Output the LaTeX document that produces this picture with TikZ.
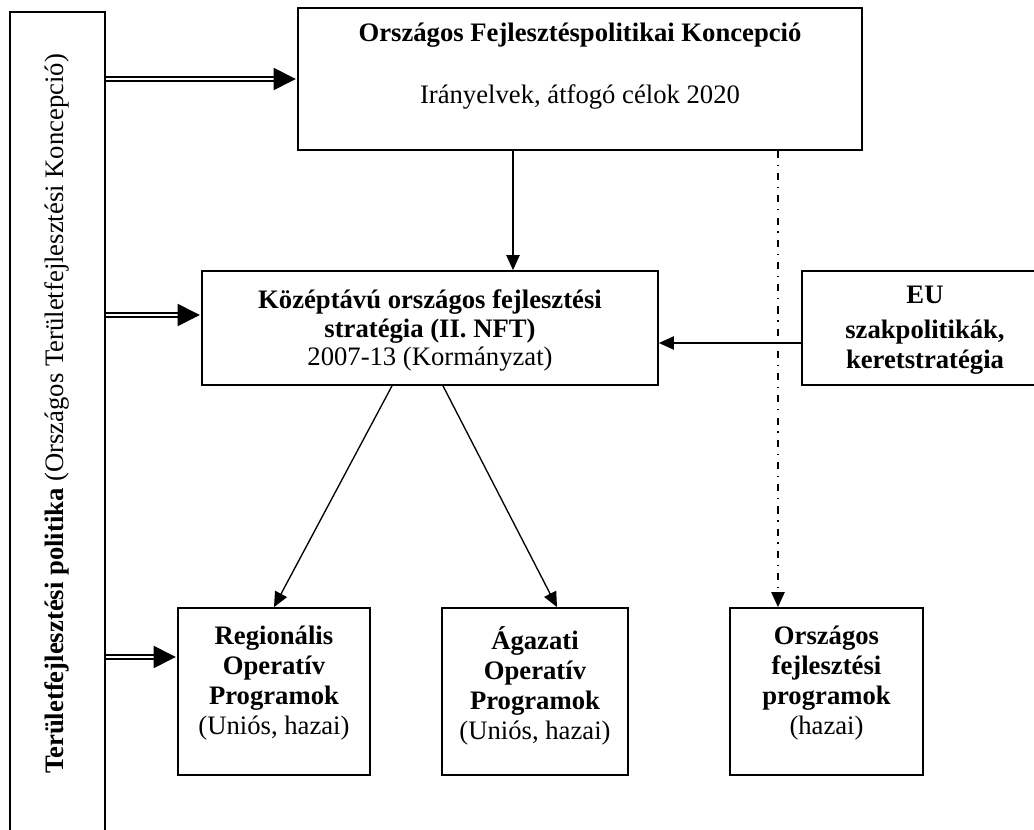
\documentclass[tikz,border=0pt]{standalone}
\usepackage{fontspec}
\setmainfont{Liberation Serif}
\usetikzlibrary{arrows.meta,positioning}

\tikzset{
    box/.style={draw, line width=0.8pt, rectangle, inner sep=0},
    txt/.style={align=center, font=\fontsize{12pt}{13pt}\selectfont, inner sep=0},
    arr/.style={-{Triangle[length=6.75pt,width=6pt]}, line width=0.6pt},
    dbl/.style={-{Triangle[length=10pt,width=10pt]}, double, double distance=1.1pt, line width=0.7pt, shorten >=0.6pt},
    dashdot/.style={-{Triangle[length=6.75pt,width=6pt]}, line width=0.6pt, dash pattern=on 3.2pt off 3pt on 0.6pt off 3.2pt}
}

\begin{document}
\begin{tikzpicture}[x=0.45pt, y=-0.45pt]
    \useasboundingbox (0,0) rectangle (1034,830);

    \node[box, minimum width=42.75pt, minimum height=381.6pt] (bar) at (57.5, 436) {};
    \node[box, minimum width=253.8pt, minimum height=63.9pt] (top) at (580, 79) {};
    \node[box, minimum width=205.2pt, minimum height=51.3pt] (mid) at (430, 328) {};
    \node[box, minimum width=110.7pt, minimum height=51.3pt] (eu) at (925, 328) {};
    \node[box, minimum width=86.4pt, minimum height=75.15pt] (reg) at (274, 691.5) {};
    \node[box, minimum width=83.7pt, minimum height=75.15pt] (aga) at (535, 691.5) {};
    \node[box, minimum width=86.85pt, minimum height=75.15pt] (orsz) at (826.5, 691.5) {};

    \node[txt, rotate=90] (bartxt) at (57, 414) {\textbf{Területfejlesztési politika} (Országos Területfejlesztési Koncepció)};
    \node[txt, below=7pt of top.north] (toptxt) {\textbf{Országos Fejlesztéspolitikai Koncepció}\\[15pt] Irányelvek, átfogó célok 2020};
    \node[txt, below=8.5pt of mid.north] (midtxt) {\textbf{Középtávú országos fejlesztési}\\ \textbf{stratégia (II. NFT)}\\ 2007-13 (Kormányzat)};
    \node[txt, below=7pt of eu.north] (eutxt) {\textbf{EU}\\[2.5pt] \textbf{szakpolitikák,}\\[0.5pt] \textbf{keretstratégia}};
    \node[txt, below=8.5pt of reg.north] (regtxt) {\textbf{Regionális}\\[0.5pt] \textbf{Operatív}\\[0.5pt] \textbf{Programok}\\[0.5pt] (Uniós, hazai)};
    \node[txt, below=8.5pt of aga.north] (agatxt) {\textbf{Ágazati}\\[0.5pt] \textbf{Operatív}\\[0.5pt] \textbf{Programok}\\[0.5pt] (Uniós, hazai)};
    \node[txt, below=8.5pt of orsz.north] (orsztxt) {\textbf{Országos}\\[0.5pt] \textbf{fejlesztési}\\[0.5pt] \textbf{programok}\\[0.5pt] (hazai)};

    \draw[arr] (top.south -| 513,0) -- (mid.north -| 513,0);
    \draw[arr] (eu.west |- 0,343) -- (mid.east |- 0,343);
    \draw[arr] (mid.south -| 392,0) -- (reg.north);
    \draw[arr] (mid.south -| 443,0) -- (aga.north -| 557,0);
    \draw[dashdot] (top.south -| 778,0) -- (orsz.north -| 778,0);

    \draw[dbl] (bar.east |- top.west) -- (top.west);
    \draw[dbl] (bar.east |- 0,315) -- (mid.west |- 0,315);
    \draw[dbl] (bar.east |- 0,657) -- (reg.west |- 0,657);
\end{tikzpicture}
\end{document}
